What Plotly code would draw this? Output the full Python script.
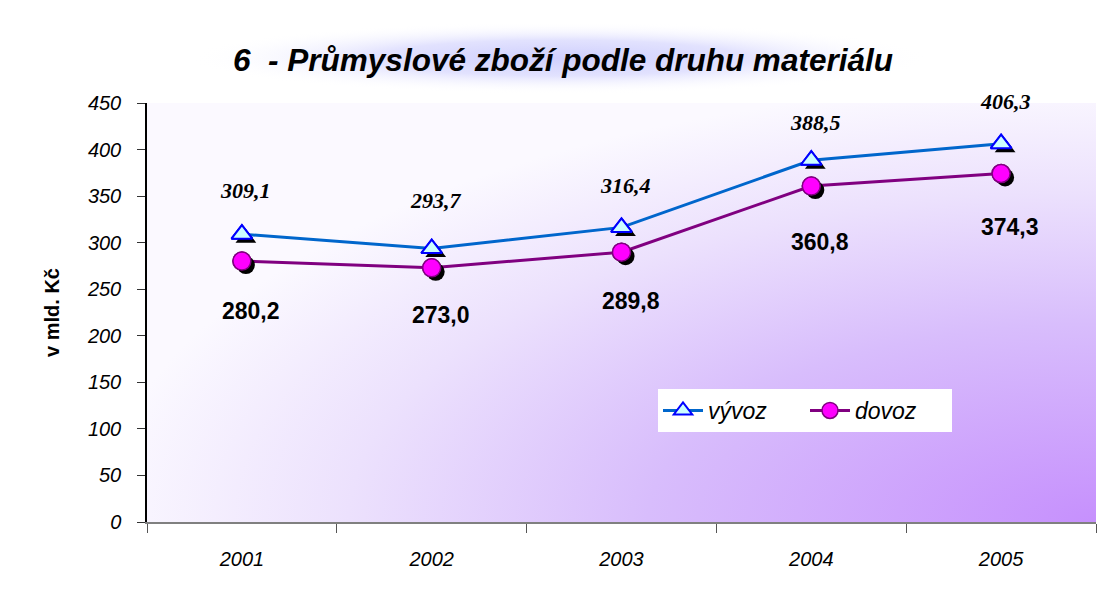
import base64
import plotly.graph_objects as go

years = ["2001", "2002", "2003", "2004", "2005"]
vyvoz = [309.1, 293.7, 316.4, 388.5, 406.3]
dovoz = [280.2, 273.0, 289.8, 360.8, 374.3]

# vertical offsets (px) of the value labels from their points
vyvoz_shift = [44, 48, 42, 38, 42]
dovoz_shift = [-50, -47, -49, -56, -54]

# the page body keeps an 8px margin, so the figure is 8px smaller
PAGE_PAD = 8
W, H = 1113 - PAGE_PAD, 602 - PAGE_PAD
L, R, T, B = 147 - PAGE_PAD, 17, 103 - PAGE_PAD, 80
plot_w, plot_h = W - L - R, H - T - B
y_max = 450
shadow_px = 4

SANS = "Liberation Sans, Arial, sans-serif"
SERIF = "Liberation Serif, Times New Roman, serif"


def svg_uri(svg):
    return "data:image/svg+xml;base64," + base64.b64encode(svg.encode()).decode()


bg_svg = """<svg xmlns='http://www.w3.org/2000/svg' width='400' height='200'
 viewBox='0 0 400 200' preserveAspectRatio='none'>
<defs><radialGradient id='g' cx='1' cy='1' r='1.05' fx='1' fy='1'>
<stop offset='0' stop-color='#c690fd'/>
<stop offset='0.45' stop-color='#d8bdfc'/>
<stop offset='0.75' stop-color='#ece1fd'/>
<stop offset='1' stop-color='#fbf9ff'/>
</radialGradient></defs>
<rect width='400' height='200' fill='url(#g)'/></svg>"""

glow_svg = """<svg xmlns='http://www.w3.org/2000/svg' width='400' height='100'
 viewBox='0 0 400 100' preserveAspectRatio='none'>
<defs><radialGradient id='g' cx='0.5' cy='0.5' r='0.5'>
<stop offset='0' stop-color='#cfcffd'/>
<stop offset='0.5' stop-color='#e2e2fe'/>
<stop offset='1' stop-color='#ffffff' stop-opacity='0'/>
</radialGradient></defs>
<rect width='400' height='100' fill='url(#g)'/></svg>"""

styles = {
    "vývoz": dict(line=dict(color="#0066cc", width=3),
                  marker=dict(symbol="triangle-up", size=18, color="#ccffff",
                              line=dict(color="#0000ff", width=2))),
    "dovoz": dict(line=dict(color="#800080", width=3),
                  marker=dict(symbol="circle", size=18, color="#ff00ff",
                              line=dict(color="#800080", width=1.5))),
}
series = {"vývoz": vyvoz, "dovoz": dovoz}

fig = go.Figure()

# lines (with legend) on the main axes
for name, vals in series.items():
    fig.add_trace(go.Scatter(x=years, y=vals, name=name, mode="lines+markers",
                             **styles[name]))

# drop shadows, on a slightly shifted overlay axis pair
for name, vals in series.items():
    m = styles[name]["marker"]
    fig.add_trace(go.Scatter(
        x=years, y=vals, mode="markers", xaxis="x2", yaxis="y2",
        marker=dict(symbol=m["symbol"], size=m["size"], color="black"),
        showlegend=False, hoverinfo="skip",
    ))

# markers again on top of the shadows
for name, vals in series.items():
    fig.add_trace(go.Scatter(x=years, y=vals, mode="markers",
                             xaxis="x3", yaxis="y3", showlegend=False,
                             marker=styles[name]["marker"]))

annotations = []
for i, (v, s) in enumerate(zip(vyvoz, vyvoz_shift)):
    annotations.append(dict(
        x=i, y=v, xref="x", yref="y", yshift=s, xshift=4, showarrow=False,
        text="<b><i>" + f"{v:.1f}".replace(".", ",") + "</i></b>",
        font=dict(family=SERIF, size=22, color="black"),
    ))
for i, (v, s) in enumerate(zip(dovoz, dovoz_shift)):
    annotations.append(dict(
        x=i, y=v, xref="x", yref="y", yshift=s, xshift=9, showarrow=False,
        text="<b>" + f"{v:.1f}".replace(".", ",") + "</b>",
        font=dict(family=SANS, size=23, color="black"),
    ))

dx = shadow_px * len(years) / plot_w
dy = shadow_px * y_max / plot_h
hidden = dict(visible=False, showgrid=False, zeroline=False)

fig.update_layout(
    width=W, height=H,
    margin=dict(l=L, r=R, t=T, b=B),
    paper_bgcolor="white",
    plot_bgcolor="rgba(0,0,0,0)",
    title=dict(
        text="6  - Průmyslové zboží podle druhu materiálu",
        font=dict(family=SANS, size=31.5, color="black",
                  weight="bold", style="italic"),
        x=(563 - PAGE_PAD) / W, xref="container", xanchor="center",
        y=1 - (60 - PAGE_PAD) / H, yref="container", yanchor="middle",
    ),
    xaxis=dict(
        type="category", range=[-0.5, 4.5], tickson="boundaries",
        showline=True, linecolor="#808080", linewidth=2,
        ticks="outside", ticklen=9, tickcolor="#555555", tickwidth=1,
        tickfont=dict(family=SANS, size=20, color="black", style="italic"),
        ticklabelstandoff=18, showgrid=False, zeroline=False,
    ),
    yaxis=dict(
        range=[0, y_max], dtick=50,
        showline=True, linecolor="black", linewidth=1.5,
        ticks="outside", ticklen=8, tickcolor="#333333",
        tickfont=dict(family=SANS, size=20, color="black", style="italic"),
        tickformat="d", showgrid=False, zeroline=False,
        ticklabelstandoff=12,
        title=dict(text="v mld. Kč", standoff=22,
                   font=dict(family=SANS, size=20, color="black",
                             weight="bold")),
    ),
    xaxis2=dict(overlaying="x", type="category",
                range=[-0.5 - dx, 4.5 - dx], **hidden),
    yaxis2=dict(overlaying="y", range=[dy, y_max + dy], **hidden),
    xaxis3=dict(overlaying="x", type="category", range=[-0.5, 4.5], **hidden),
    yaxis3=dict(overlaying="y", range=[0, y_max], **hidden),
    legend=dict(
        orientation="h", x=(658 - 147) / plot_w, y=(522 - 389) / plot_h,
        xanchor="left", yanchor="top",
        bgcolor="white", borderwidth=0,
        font=dict(family=SANS, size=23, color="black", style="italic"),
        itemwidth=40, entrywidth=92,
    ),
    annotations=annotations,
    images=[
        dict(source=svg_uri(bg_svg), xref="paper", yref="paper",
             x=0, y=1, sizex=1, sizey=1, xanchor="left", yanchor="top",
             sizing="stretch", layer="below"),
        dict(source=svg_uri(glow_svg), xref="paper", yref="paper",
             x=(190 - 147) / plot_w, y=(522 - 22) / plot_h,
             sizex=740 / plot_w, sizey=72 / plot_h,
             xanchor="left", yanchor="top", sizing="stretch", layer="below"),
    ],
    showlegend=True,
)

fig.write_html("out.html")
